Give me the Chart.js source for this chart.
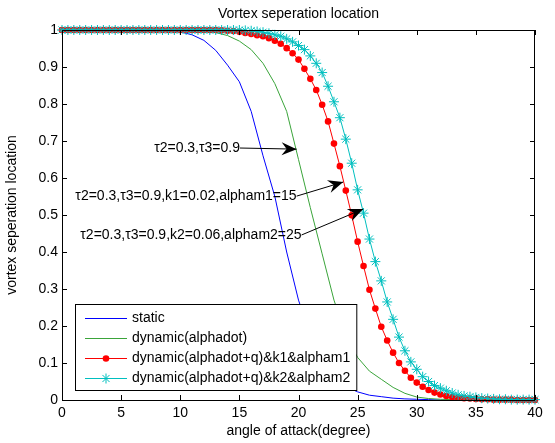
<!DOCTYPE html>
<html>
<head>
<meta charset="utf-8">
<script src="https://cdn.jsdelivr.net/npm/chart.js@4.4.1/dist/chart.umd.min.js"></script>
<style>
    html, body { margin: 0; padding: 0; background: #fff; }
    #contenedor { width: 555px; height: 443px; }
</style>
</head>
<body>
<div id="contenedor"><canvas id="grafico-separacion"></canvas></div>
<script>
/* Angulos de ataque (grados) */
var angulos1 = [0, 1, 2, 3, 4, 5, 6, 7, 8, 9, 10, 11, 12, 13, 14, 15, 16, 17, 18, 19, 20,
    21, 22, 23, 24, 25, 26, 27, 28, 29, 30, 31, 32, 33, 34, 35, 36, 37, 38, 39, 40];
var angulos05 = [0, 0.5, 1, 1.5, 2, 2.5, 3, 3.5, 4, 4.5, 5, 5.5, 6, 6.5, 7, 7.5, 8, 8.5, 9, 9.5,
    10, 10.5, 11, 11.5, 12, 12.5, 13, 13.5, 14, 14.5, 15, 15.5, 16, 16.5, 17, 17.5, 18, 18.5, 19, 19.5,
    20, 20.5, 21, 21.5, 22, 22.5, 23, 23.5, 24, 24.5, 25, 25.5, 26, 26.5, 27, 27.5, 28, 28.5, 29, 29.5,
    30, 30.5, 31, 31.5, 32, 32.5, 33, 33.5, 34, 34.5, 35, 35.5, 36, 36.5, 37, 37.5, 38, 38.5, 39, 39.5, 40];

/* Posicion de separacion del vortice para cada caso */
var estatico = [1, 1, 1, 1, 1, 1, 1, 1, 1, 1,
    0.995, 0.987, 0.972, 0.945, 0.905, 0.86, 0.78, 0.66, 0.55, 0.40,
    0.27, 0.175, 0.105, 0.062, 0.036, 0.022, 0.013, 0.009, 0.005, 0.003,
    0.002, 0.001, 0, 0, 0, 0, 0, 0, 0, 0, 0];
var dinamico = [1, 1, 1, 1, 1, 1, 1, 1, 1, 1, 1, 1,
    0.997, 0.993, 0.985, 0.97, 0.947, 0.91, 0.855, 0.78,
    0.65, 0.52, 0.395, 0.27, 0.175, 0.115, 0.078, 0.056, 0.034, 0.018,
    0.008, 0.004, 0.002, 0.001, 0, 0, 0, 0, 0, 0, 0];
var dinamicoK1 = [1, 1, 1, 1, 1, 1, 1, 1, 1, 1, 1, 1, 1, 1, 1, 1, 1, 1, 1, 1,
    1, 1, 1, 1, 1, 1, 1,
    0.999, 0.998, 0.997, 0.995, 0.992, 0.989, 0.986, 0.983, 0.978, 0.971, 0.963, 0.951, 0.937,
    0.92, 0.895, 0.868, 0.838, 0.798, 0.753, 0.693, 0.632, 0.566, 0.499,
    0.428, 0.362, 0.298, 0.247, 0.198, 0.161, 0.128, 0.1, 0.079, 0.06,
    0.047, 0.036, 0.027, 0.02, 0.015, 0.011, 0.008, 0.006, 0.005, 0.004,
    0.003, 0.002, 0.002, 0.001, 0.001, 0.001, 0.001, 0, 0, 0, 0];
var dinamicoK2 = [1, 1, 1, 1, 1, 1, 1, 1, 1, 1, 1, 1, 1, 1, 1, 1, 1, 1, 1, 1,
    1, 1, 1, 1, 1, 1, 1, 1, 1, 1, 1,
    0.999, 0.998, 0.996, 0.994, 0.991, 0.987, 0.983, 0.976, 0.968,
    0.958, 0.947, 0.93, 0.91, 0.885, 0.848, 0.806, 0.763, 0.705, 0.64,
    0.568, 0.505, 0.435, 0.374, 0.322, 0.265, 0.218, 0.17, 0.133, 0.103,
    0.083, 0.063, 0.05, 0.039, 0.032, 0.025, 0.019, 0.014, 0.011, 0.009,
    0.007, 0.005, 0.004, 0.003, 0.002, 0.002, 0.001, 0.001, 0.001, 0.001, 0.001];

/* Marcas de los ejes */
var ticksX = [0, 5, 10, 15, 20, 25, 30, 35, 40];
var ticksY = [0, 0.1, 0.2, 0.3, 0.4, 0.5, 0.6, 0.7, 0.8, 0.9, 1];
var etiquetasY = ['0', '0.1', '0.2', '0.3', '0.4', '0.5', '0.6', '0.7', '0.8', '0.9', '1'];

/* Textos con flecha: desde el final del texto hasta la curva */
var notas = [
    { texto: 'τ2=0.3,τ3=0.9', desde: [15.05, 0.681], hasta: [19.84, 0.678] },
    { texto: 'τ2=0.3,τ3=0.9,k1=0.02,alpham1=15', desde: [19.84, 0.551], hasta: [23.78, 0.589] },
    { texto: 'τ2=0.3,τ3=0.9,k2=0.06,alpham2=25', desde: [20.26, 0.446], hasta: [25.47, 0.516] }
];

var fuente = '"Liberation Sans", Arial, sans-serif';
Chart.defaults.font.family = fuente;
Chart.defaults.font.size = 14;
Chart.defaults.color = '#000';

function puntos(xs, ys) {
    return xs.map(function (x, i) { return { x: x, y: ys[i] }; });
}

function linea(ctx, x1, y1, x2, y2) {
    ctx.beginPath();
    ctx.moveTo(x1, y1);
    ctx.lineTo(x2, y2);
    ctx.stroke();
}

function marcador(ctx, ds, x, y) {
    if (!ds.pointRadius) return;
    ctx.save();
    ctx.strokeStyle = ds.borderColor;
    ctx.fillStyle = ds.pointBackgroundColor || ds.borderColor;
    ctx.lineWidth = ds.pointBorderWidth || 1;
    Chart.helpers.drawPoint(ctx, { pointStyle: ds.pointStyle, radius: ds.pointRadius, rotation: 0, borderWidth: ds.pointBorderWidth }, x, y);
    ctx.restore();
}

/* Caja, marcas interiores, titulo, leyenda y notas */
var decoracion = {
    id: 'decoracion',
    afterDraw: function (chart) {
        var ctx = chart.ctx;
        var a = chart.chartArea;
        var ex = chart.scales.x;
        var ey = chart.scales.y;
        ctx.save();
        ctx.strokeStyle = '#000';
        ctx.lineWidth = 1;
        ctx.strokeRect(a.left + 0.5, a.top + 0.5, a.right - a.left - 1, a.bottom - a.top);

        ticksX.forEach(function (v) {
            var px = Math.round(ex.getPixelForValue(v)) + 0.5;
            linea(ctx, px, a.bottom, px, a.bottom - 5);
            linea(ctx, px, a.top, px, a.top + 5);
        });
        ticksY.forEach(function (v) {
            var py = Math.round(ey.getPixelForValue(v)) + 0.5;
            linea(ctx, a.left, py, a.left + 5, py);
            linea(ctx, a.right, py, a.right - 5, py);
        });

        // titulo
        ctx.fillStyle = '#000';
        ctx.font = '14px ' + fuente;
        ctx.textAlign = 'center';
        ctx.textBaseline = 'middle';
        ctx.fillText('Vortex seperation location', (a.left + a.right) / 2, 14);

        // notas con flecha
        notas.forEach(function (n) {
            var x1 = ex.getPixelForValue(n.desde[0]), y1 = ey.getPixelForValue(n.desde[1]);
            var x2 = ex.getPixelForValue(n.hasta[0]), y2 = ey.getPixelForValue(n.hasta[1]);
            ctx.textAlign = 'right';
            ctx.fillText(n.texto, x1, y1);
            linea(ctx, x1, y1, x2, y2);
            var ang = Math.atan2(y2 - y1, x2 - x1);
            ctx.save();
            ctx.translate(x2, y2);
            ctx.rotate(ang);
            ctx.beginPath();
            ctx.moveTo(0, 0);
            ctx.lineTo(-15, -6.5);
            ctx.lineTo(-10, 0);
            ctx.lineTo(-15, 6.5);
            ctx.closePath();
            ctx.fill();
            ctx.restore();
        });

        // leyenda
        var dsets = chart.data.datasets;
        var anchoTexto = 0;
        dsets.forEach(function (d) { anchoTexto = Math.max(anchoTexto, ctx.measureText(d.label).width); });
        var lx = a.left + 13, ly = a.bottom - 96;
        var ancho = 57 + anchoTexto + 6, alto = 86;
        ctx.fillStyle = '#fff';
        ctx.fillRect(lx, ly, ancho, alto);
        ctx.strokeRect(lx + 0.5, ly + 0.5, ancho, alto);
        dsets.forEach(function (d, i) {
            var fy = ly + 14.5 + i * 20;
            ctx.strokeStyle = d.borderColor;
            ctx.lineWidth = 1;
            linea(ctx, lx + 10, fy, lx + 52, fy);
            marcador(ctx, d, lx + 31, fy);
            ctx.fillStyle = '#000';
            ctx.textAlign = 'left';
            ctx.fillText(d.label, lx + 57, fy);
        });
        ctx.restore();
    }
};

var marco = document.getElementById('grafico-separacion').getContext('2d');

var grafico = new Chart(marco, {
    type: 'line',
    data: {
        datasets: [{
            label: 'static',
            data: puntos(angulos1, estatico),
            borderColor: '#0000ff',
            borderWidth: 1,
            pointRadius: 0,
            order: 4
        }, {
            label: 'dynamic(alphadot)',
            data: puntos(angulos1, dinamico),
            borderColor: '#3aa43a',
            borderWidth: 1,
            pointRadius: 0,
            order: 3
        }, {
            label: 'dynamic(alphadot+q)&k1&alpham1',
            data: puntos(angulos05, dinamicoK1),
            borderColor: '#ff0000',
            backgroundColor: '#ff0000',
            pointBackgroundColor: '#ff0000',
            borderWidth: 1,
            pointStyle: 'circle',
            pointRadius: 3.3,
            pointBorderWidth: 0,
            order: 2
        }, {
            label: 'dynamic(alphadot+q)&k2&alpham2',
            data: puntos(angulos05, dinamicoK2),
            borderColor: '#00bfbf',
            backgroundColor: '#00bfbf',
            borderWidth: 1,
            pointStyle: 'star',
            pointRadius: 5,
            pointBorderWidth: 1,
            order: 1
        }]
    },
    options: {
        responsive: true,
        maintainAspectRatio: false,
        devicePixelRatio: 1,
        animation: false,
        events: [],
        layout: { padding: { top: 30, right: 20, left: 0, bottom: 0 } },
        elements: { line: { tension: 0, fill: false } },
        datasets: { line: { clip: false } },
        plugins: {
            legend: { display: false },
            tooltip: { enabled: false },
            title: { display: false }
        },
        scales: {
            x: {
                type: 'linear',
                min: 0,
                max: 40,
                afterBuildTicks: function (s) { s.ticks = ticksX.map(function (v) { return { value: v }; }); },
                afterFit: function (s) { s.height = 43; },
                grid: { display: false, drawTicks: false },
                border: { display: false },
                ticks: { padding: 5, maxRotation: 0 },
                title: { display: true, text: 'angle of attack(degree)', padding: { top: 0, bottom: 3 } }
            },
            y: {
                min: 0,
                max: 1,
                afterBuildTicks: function (s) { s.ticks = ticksY.map(function (v) { return { value: v }; }); },
                afterFit: function (s) { s.width = 62; },
                grid: { display: false, drawTicks: false },
                border: { display: false },
                ticks: {
                    padding: 4,
                    callback: function (valor, i) { return etiquetasY[i]; }
                },
                title: { display: true, text: 'vortex seperation location', padding: { top: 4, bottom: 0 } }
            }
        }
    },
    plugins: [decoracion]
});
</script>
</body>
</html>
